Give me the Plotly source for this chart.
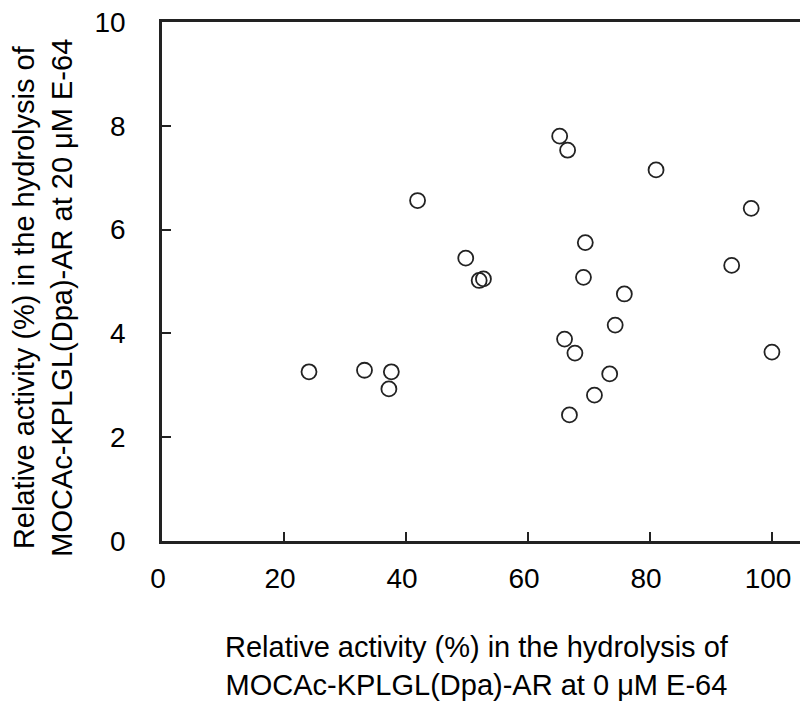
import plotly.graph_objects as go

# Relative activity (%) at 0 uM E-64
x_activity_0uM = [41.9, 49.8, 52.0, 52.7, 24.1, 33.2, 37.6, 37.2,
                  65.2, 66.5, 81.0, 96.6, 69.4, 93.4, 69.1, 75.8,
                  74.3, 66.0, 67.7, 100.0, 73.4, 70.9, 66.8]
# Relative activity (%) at 20 uM E-64
y_activity_20uM = [6.56, 5.45, 5.02, 5.05, 3.26, 3.29, 3.26, 2.93,
                   7.80, 7.53, 7.15, 6.41, 5.75, 5.31, 5.08, 4.76,
                   4.16, 3.89, 3.62, 3.64, 3.22, 2.81, 2.43]

x_ticks = [0, 20, 40, 60, 80, 100]
x_tick_labels = ["0", "20", "40", "60", "80", "100"]
y_ticks = [0, 2, 4, 6, 8, 10]
y_tick_labels = ["0", "2", "4", "6", "8", "10"]

x_title = "Relative activity (%) in the hydrolysis of<br>MOCAc-KPLGL(Dpa)-AR at 0 \u03bcM E-64"
y_title = "Relative activity (%) in the hydrolysis of<br>MOCAc-KPLGL(Dpa)-AR at 20 \u03bcM E-64"

FONT = "Liberation Sans, Arial, sans-serif"
AXC = "#222222"

fig = go.Figure(
    go.Scatter(
        x=x_activity_0uM,
        y=y_activity_20uM,
        mode="markers",
        marker=dict(symbol="circle-open", size=15,
                    line=dict(width=1.8, color=AXC), color=AXC),
        showlegend=False,
    )
)

fig.update_layout(
    width=800, height=702,
    margin=dict(l=162, r=0, t=22, b=161),
    paper_bgcolor="white", plot_bgcolor="white",
    font=dict(family=FONT, color="black", size=28),
    annotations=[
        dict(text=x_title, xref="paper", yref="paper", x=0.4937, y=-0.2408,
             xanchor="center", yanchor="middle", showarrow=False,
             font=dict(size=29, family=FONT, color="black")),
        dict(text=y_title, xref="paper", yref="paper", x=-0.1857, y=0.468,
             xanchor="center", yanchor="middle", showarrow=False, textangle=-90,
             font=dict(size=29, family=FONT, color="black")),
    ],
)

fig.update_xaxes(
    range=[0, 104.6], tickvals=x_ticks,
    ticktext=[t + "\u00a0" for t in x_tick_labels],
    ticks="inside", ticklen=9,
    tickwidth=2, tickcolor=AXC, showline=True, linewidth=2.5,
    linecolor=AXC, mirror=True, showgrid=False, zeroline=False,
    tickfont=dict(size=28), ticklabelstandoff=11,
)
fig.update_yaxes(
    range=[0, 10], tickvals=y_ticks, ticktext=y_tick_labels,
    ticks="inside", ticklen=9,
    tickwidth=2, tickcolor=AXC, showline=True, linewidth=2.5,
    linecolor=AXC, mirror=False, showgrid=False, zeroline=False,
    tickfont=dict(size=28), ticklabelstandoff=28,
)

fig.write_html("out.html", config={"displayModeBar": False},
               post_script="document.body.style.margin='0px';")
